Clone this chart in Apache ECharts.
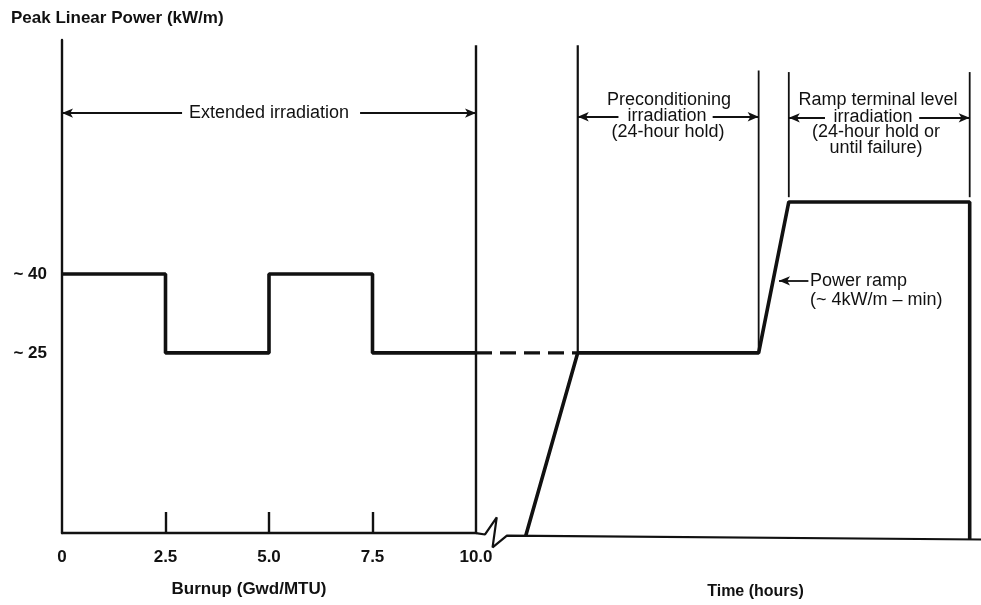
<!DOCTYPE html>
<html>
<head>
<meta charset="utf-8">
<script src="https://cdn.jsdelivr.net/npm/echarts@6/dist/echarts.min.js"></script>
<style>
  html, body { margin: 0; padding: 0; background: #fff; }
  #chart { width: 981px; height: 605px; }
</style>
</head>
<body>
<div id="chart"></div>
<script>
// burnup part (left panel)
const burnupTicks = [0, 2.5, 5.0, 7.5, 10.0];
const burnupX = [0, 2.5, 2.5, 5.0, 5.0, 7.5, 7.5, 10.0];
const burnupPower = [40, 40, 25, 25, 40, 40, 25, 25];
const powerTicks = [40, 25];

// time part (right panel), hours from start of preconditioning
const dashX = [-13.5, 0];
const dashPower = [25, 25];
const timeX = [-6.9, 0, 24, 28, 52, 52];
const timePower = [-9.8, 25, 25, 53.7, 53.7, -10.5];
const baseX = [-13.5, -12.3, -10.75, -11.3, -9.4, 53.5];
const basePower = [-9.3, -9.55, -6.3, -12.0, -9.75, -10.5];
const phaseX = [0, 24, 28, 52];
const phaseTop = [83.5, 78.7, 78.4, 78.4];
const phaseBottom = [25, 25, 54.6, 54.6];

const INK = '#111';
const FONT = "'Liberation Sans', Arial, sans-serif";

const zip = (xs, ys) => xs.map((x, i) => [x, ys[i]]);

const segment = (data, xi, width, extra) => Object.assign({
  type: 'line', xAxisIndex: xi, yAxisIndex: xi, data,
  showSymbol: false, symbol: 'none', silent: true,
  lineStyle: { color: INK, width }
}, extra || {});

const arrowPair = (x1, x2, x3, x4, y) => [
  [{ coord: [x1, y], symbol: 'arrow' }, { coord: [x2, y], symbol: 'none' }],
  [{ coord: [x3, y], symbol: 'none' }, { coord: [x4, y], symbol: 'arrow' }]
];

const markArrows = (data) => ({
  silent: true, animation: false,
  symbolSize: [7, 11],
  label: { show: false },
  lineStyle: { color: INK, width: 1.8, type: 'solid' },
  data
});

const chart = echarts.init(document.getElementById('chart'), null, { renderer: 'canvas' });

const series = [];

// stepped extended irradiation history
series.push(segment(zip(burnupX, burnupPower), 0, 3.6, {
  markLine: markArrows(arrowPair(0, 2.9, 7.2, 10, 70.6))
}));
series.push(segment([[10, -9.25], [10, 83.5]], 0, 2.4));

// right panel
series.push(segment(zip(dashX, dashPower), 1, 3.2, {
  lineStyle: { color: INK, width: 3.2, type: [16, 8] }
}));
series.push(segment(zip(timeX, timePower), 1, 3.6, {
  markLine: markArrows(
    arrowPair(0, 5.4, 17.9, 24, 69.9)
      .concat(arrowPair(28, 32.8, 45.3, 52, 69.7))
      .concat([[{ coord: [30.6, 38.7], symbol: 'none' }, { coord: [26.7, 38.7], symbol: 'arrow' }]])
  )
}));
series.push(segment(zip(baseX, basePower), 1, 2.2));
phaseX.forEach((x, i) => {
  series.push(segment([[x, phaseBottom[i]], [x, phaseTop[i]]], 1, i === 0 ? 2.2 : 1.8));
});

const txt = (text, x, y, align, size, weight) => ({
  type: 'text', x, y, silent: true,
  style: {
    text, fill: INK, font: `${weight || 'normal'} ${size || 18}px ${FONT}`,
    textAlign: align || 'center', textVerticalAlign: 'middle'
  }
});

const boldText = { color: INK, fontFamily: FONT, fontSize: 17, fontWeight: 'bold' };

chart.setOption({
  animation: false,
  backgroundColor: '#fff',
  title: {
    text: 'Peak Linear Power (kW/m)', left: 6, top: 5,
    textStyle: boldText
  },
  grid: [
    { left: 62, right: 505, top: 40, bottom: 72, outerBoundsMode: 'none' },
    { left: 476, right: 0, top: 40, bottom: 55, outerBoundsMode: 'none' }
  ],
  xAxis: [
    {
      type: 'value', gridIndex: 0, min: 0, max: 10,
      name: 'Burnup (Gwd/MTU)', nameLocation: 'middle', nameGap: 48,
      nameTextStyle: Object.assign({}, boldText, { padding: [0, 40, 0, 0] }),
      axisLine: { show: true, onZero: false, lineStyle: { color: INK, width: 2.4 } },
      axisTick: { show: true, inside: true, length: 21, customValues: [2.5, 5.0, 7.5], lineStyle: { color: INK, width: 2.4 } },
      axisLabel: Object.assign({
        customValues: burnupTicks, margin: 16,
        formatter: (v) => v === 0 ? '0' : v.toFixed(1)
      }, boldText),
      splitLine: { show: false }
    },
    {
      type: 'value', gridIndex: 1, min: -13.5, max: 53.5,
      name: 'Time (hours)', nameLocation: 'middle', nameGap: 34,
      nameTextStyle: Object.assign({}, boldText, { fontSize: 16, padding: [0, 0, 0, 54] }),
      axisLine: { show: false }, axisTick: { show: false }, axisLabel: { show: false },
      splitLine: { show: false }
    }
  ],
  yAxis: [
    {
      type: 'value', gridIndex: 0, min: -9.25, max: 84.5,
      axisLine: { show: true, onZero: false, lineStyle: { color: INK, width: 2.4 } },
      axisTick: { show: false },
      axisLabel: Object.assign({
        customValues: powerTicks, margin: 15,
        formatter: (v) => '~ ' + v
      }, boldText),
      splitLine: { show: false }
    },
    {
      type: 'value', gridIndex: 1, min: -12.5, max: 84.5,
      axisLine: { show: false }, axisTick: { show: false }, axisLabel: { show: false },
      splitLine: { show: false }
    }
  ],
  graphic: [
    txt('Extended irradiation', 269, 113),
    txt('Preconditioning', 669, 100),
    txt('irradiation', 667, 116),
    txt('(24-hour hold)', 668, 132),
    txt('Ramp terminal level', 878, 100),
    txt('irradiation', 873, 117),
    txt('(24-hour hold or', 876, 132),
    txt('until failure)', 876, 148),
    txt('Power ramp', 810, 281, 'left'),
    txt('(~ 4kW/m – min)', 810, 300, 'left')
  ],
  series
});
</script>
</body>
</html>
